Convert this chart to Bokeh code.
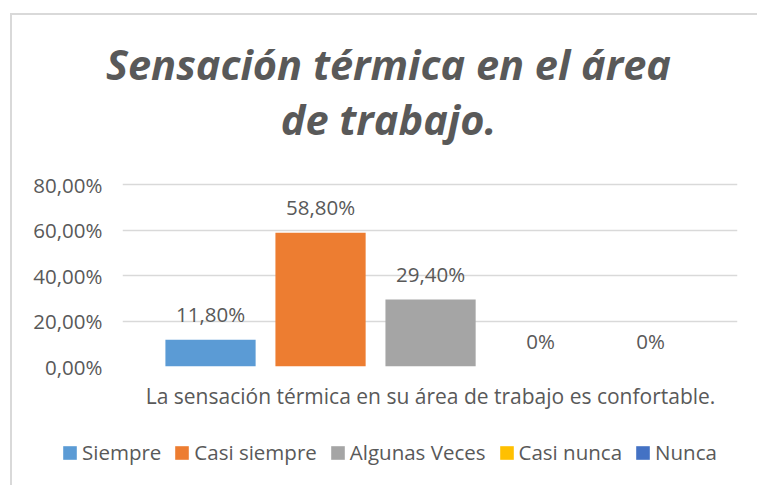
from bokeh.plotting import figure
from bokeh.layouts import column
from bokeh.models import (ColumnDataSource, LabelSet, Label, Legend, LegendItem,
                          FixedTicker)
from bokeh.core.properties import value
from bokeh.embed import file_html
from bokeh.resources import INLINE

# ---- data ----
title_lines = ["Sensación térmica en el área", "de trabajo."]
category = "La sensación térmica en su área de trabajo es confortable."
series = ["Siempre", "Casi siempre", "Algunas Veces", "Casi nunca", "Nunca"]
values = [0.118, 0.588, 0.294, 0.0, 0.0]
value_labels = ["11,80%", "58,80%", "29,40%", "0%", "0%"]
colors = ["#5B9BD5", "#ED7D31", "#A5A5A5", "#FFC000", "#4472C4"]
y_ticks = [0, 0.2, 0.4, 0.6, 0.8]
y_tick_labels = ["0,00%", "20,00%", "40,00%", "60,00%", "80,00%"]

# ---- layout ----
W = 757
TOP_H, LEG_H = 160, 55
FL, FR = 122, 737
FRAME_H = 190            # page y 176 .. 366
P_TOP, P_BOT = 16, 64    # plot figure spans page y 160 .. 430
X0, X1 = -0.8, 4.79
Y0 = 0.0
Y1 = 0.8 * FRAME_H / (FRAME_H - 8)
FONT = "Open Sans"
TXT = "#595959"


def no_align(fig):
    if "frame_align" in fig.properties():
        fig.frame_align = False
    return fig


def bare(fig):
    fig.min_border = 0
    fig.outline_line_color = None
    fig.background_fill_alpha = 0
    fig.border_fill_alpha = 0
    fig.xgrid.visible = False
    fig.ygrid.visible = False
    return no_align(fig)


# ---- title strip ----
tp = bare(figure(width=W, height=TOP_H, output_backend="svg", toolbar_location=None,
                 x_range=(0, W), y_range=(0, TOP_H), x_axis_location=None,
                 y_axis_location=None))
for line, base in zip(title_lines, [63, 118]):
    tp.add_layout(Label(x=388, y=TOP_H - base, text=line, text_align="center",
                        text_baseline="alphabetic", text_font=FONT,
                        text_font_style="bold italic", text_font_size="41.5px",
                        text_color=TXT))

# ---- chart ----
p = figure(frame_width=FR - FL, frame_height=FRAME_H, output_backend="svg",
           toolbar_location=None, x_range=(X0, X1), y_range=(Y0, Y1))
p.min_border_left = FL
p.min_border_right = W - FR
p.min_border_top = P_TOP
p.min_border_bottom = P_BOT
p.outline_line_color = None
p.background_fill_color = "white"
p.border_fill_alpha = 0
no_align(p)

xs = list(range(len(series)))
src = ColumnDataSource(dict(x=xs, top=values, color=colors, label=value_labels, name=series))
r = p.vbar(x="x", top="top", bottom=0, width=0.82, source=src,
           fill_color="color", line_color=None)

labels = LabelSet(x="x", y="top", text="label", source=src, y_offset=26,
                  text_align="center", text_baseline="middle",
                  text_font=value(FONT), text_font_size="20.5px", text_color=TXT)
p.add_layout(labels)

p.xgrid.grid_line_color = None
p.ygrid.grid_line_color = "#D9D9D9"
p.ygrid.grid_line_width = 1.3
p.ygrid.ticker = FixedTicker(ticks=y_ticks)

p.yaxis.ticker = FixedTicker(ticks=y_ticks)
p.yaxis.major_label_overrides = {t: s for t, s in zip(y_ticks, y_tick_labels)}
p.yaxis.axis_line_color = None
p.yaxis.major_tick_line_color = None
p.yaxis.minor_tick_line_color = None
p.yaxis.major_tick_out = 0
p.yaxis.major_label_standoff = 20
p.yaxis.major_label_text_font = FONT
p.yaxis.major_label_text_font_size = "20.5px"
p.yaxis.major_label_text_color = TXT

center = (len(series) - 1) / 2
p.xaxis.ticker = FixedTicker(ticks=[center])
p.xaxis.major_label_overrides = {center: category}
p.xaxis.axis_line_color = None
p.xaxis.major_tick_line_color = None
p.xaxis.minor_tick_line_color = None
p.xaxis.major_tick_out = 0
p.xaxis.major_label_standoff = 15
p.xaxis.major_label_text_font = FONT
p.xaxis.major_label_text_font_size = "21px"
p.xaxis.major_label_text_color = TXT

# ---- legend strip ----
lp = bare(figure(width=W, height=LEG_H, output_backend="svg", toolbar_location=None,
                 x_range=(0, 1), y_range=(0, 1), x_axis_location=None,
                 y_axis_location=None))
lr = lp.vbar(x="x", top="top", bottom=0, width=0.82, source=src,
             fill_color="color", line_color=None, visible=False)
items = [LegendItem(label=s, renderers=[lr], index=i) for i, s in enumerate(series)]
legend = Legend(items=items, orientation="horizontal", location=(61, 19),
                glyph_width=17, glyph_height=17, label_standoff=4, spacing=12,
                padding=0, margin=0, border_line_color=None,
                background_fill_alpha=0, inactive_fill_alpha=0,
                label_text_font=FONT, label_text_font_size="20.5px",
                label_text_color=TXT, label_height=28)
lp.add_layout(legend, "center")

layout = column(tp, p, lp, spacing=0)
layout.styles = {"box-shadow": "inset 10px 13px 0 0 #FFFFFF, inset 12px 15px 0 0 #D9D9D9",
                 "background-color": "white"}

open("out.html", "w").write(file_html(layout, INLINE))
